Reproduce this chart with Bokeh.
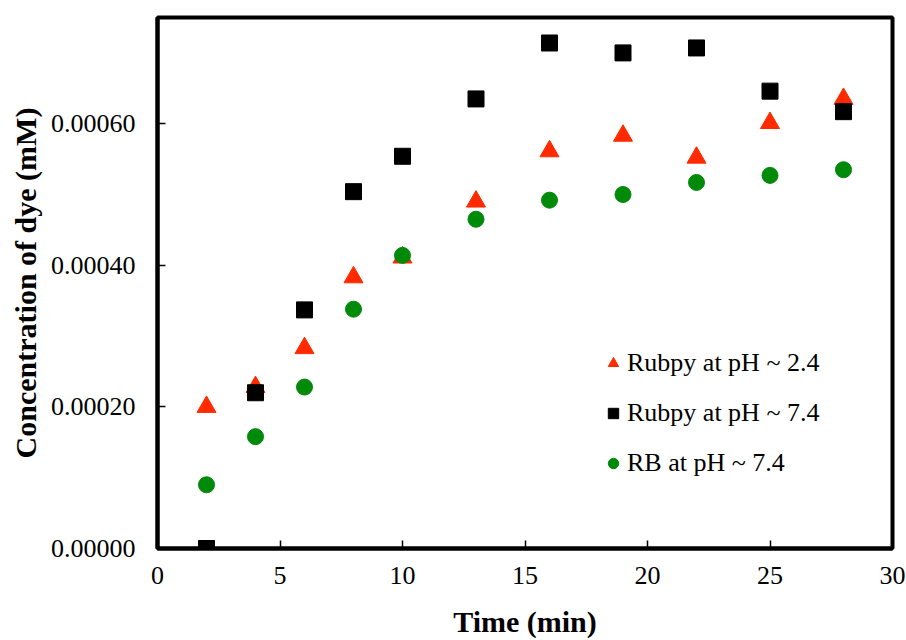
from bokeh.plotting import figure
from bokeh.models import Range1d, Legend, LegendItem, FixedTicker, CustomJSTickFormatter
from bokeh.embed import file_html
from bokeh.resources import INLINE

time_min = [2, 4, 6, 8, 10, 13, 16, 19, 22, 25, 28]
rubpy_ph24 = [0.000200, 0.000228, 0.000283, 0.000383, 0.000411, 0.000490, 0.000561, 0.000583, 0.000552, 0.000601, 0.000635]
rubpy_ph74 = [0.000000, 0.000220, 0.000337, 0.000504, 0.000554, 0.000635, 0.000714, 0.000700, 0.000707, 0.000646, 0.000617]
rb_ph74 = [0.000090, 0.000158, 0.000228, 0.000338, 0.000414, 0.000465, 0.000492, 0.000500, 0.000517, 0.000527, 0.000535]

x_ticks = [0, 5, 10, 15, 20, 25, 30]
y_ticks = [0.0, 0.0002, 0.0004, 0.0006]

FONT = "Liberation Serif"

p = figure(width=906, height=640, output_backend="svg", toolbar_location=None,
           x_range=Range1d(0, 30), y_range=Range1d(0, 0.00075),
           min_border_left=157, min_border_right=14, min_border_top=17, min_border_bottom=92)
p.grid.visible = False
p.background_fill_color = "white"
p.border_fill_color = "white"
p.outline_line_color = "black"
p.outline_line_width = 4

for ax in (p.xaxis[0], p.yaxis[0]):
    ax.axis_line_width = 4
    ax.axis_line_color = "black"
    ax.major_tick_in = 8
    ax.major_tick_out = 0
    ax.major_tick_line_width = 1.5
    ax.minor_tick_line_color = None
    ax.major_label_text_font = FONT
    ax.major_label_text_font_size = "26px"
    ax.major_label_text_color = "black"
    ax.axis_label_text_font = FONT
    ax.axis_label_text_font_size = "30px"
    ax.axis_label_text_font_style = "bold"
    ax.axis_label_text_color = "black"

p.xaxis.ticker = FixedTicker(ticks=x_ticks)
p.yaxis.ticker = FixedTicker(ticks=y_ticks)
p.yaxis.formatter = CustomJSTickFormatter(code="return tick.toFixed(5);")
p.xaxis.major_label_standoff = 18
p.yaxis.major_label_standoff = 22
p.xaxis.axis_label = "Time (min)"
p.yaxis.axis_label = "Concentration of dye (mM)"
p.xaxis.axis_label_standoff = 18
p.yaxis.axis_label_standoff = 6

r1 = p.scatter(time_min, rubpy_ph24, marker="triangle", size=19, color="#ff2a00", line_color="#ff2a00")
r2 = p.scatter(time_min, rubpy_ph74, marker="square", size=16, color="black")
r3 = p.scatter(time_min, rb_ph74, marker="circle", size=16, color="#008a0a", line_color="#008a0a")

legend = Legend(items=[
    LegendItem(label="Rubpy at pH ~ 2.4", renderers=[r1]),
    LegendItem(label="Rubpy at pH ~ 7.4", renderers=[r2]),
    LegendItem(label="RB at pH ~ 7.4", renderers=[r3]),
], location=(443, 70))
legend.label_text_font = FONT
legend.label_text_font_size = "26px"
legend.label_text_color = "black"
legend.border_line_color = None
legend.background_fill_alpha = 0
legend.glyph_width = 26
legend.glyph_height = 26
legend.label_height = 26
legend.label_standoff = 1
legend.spacing = 20
legend.padding = 0
legend.margin = 0
p.add_layout(legend, "center")

open("out.html", "w").write(file_html(p, INLINE))
